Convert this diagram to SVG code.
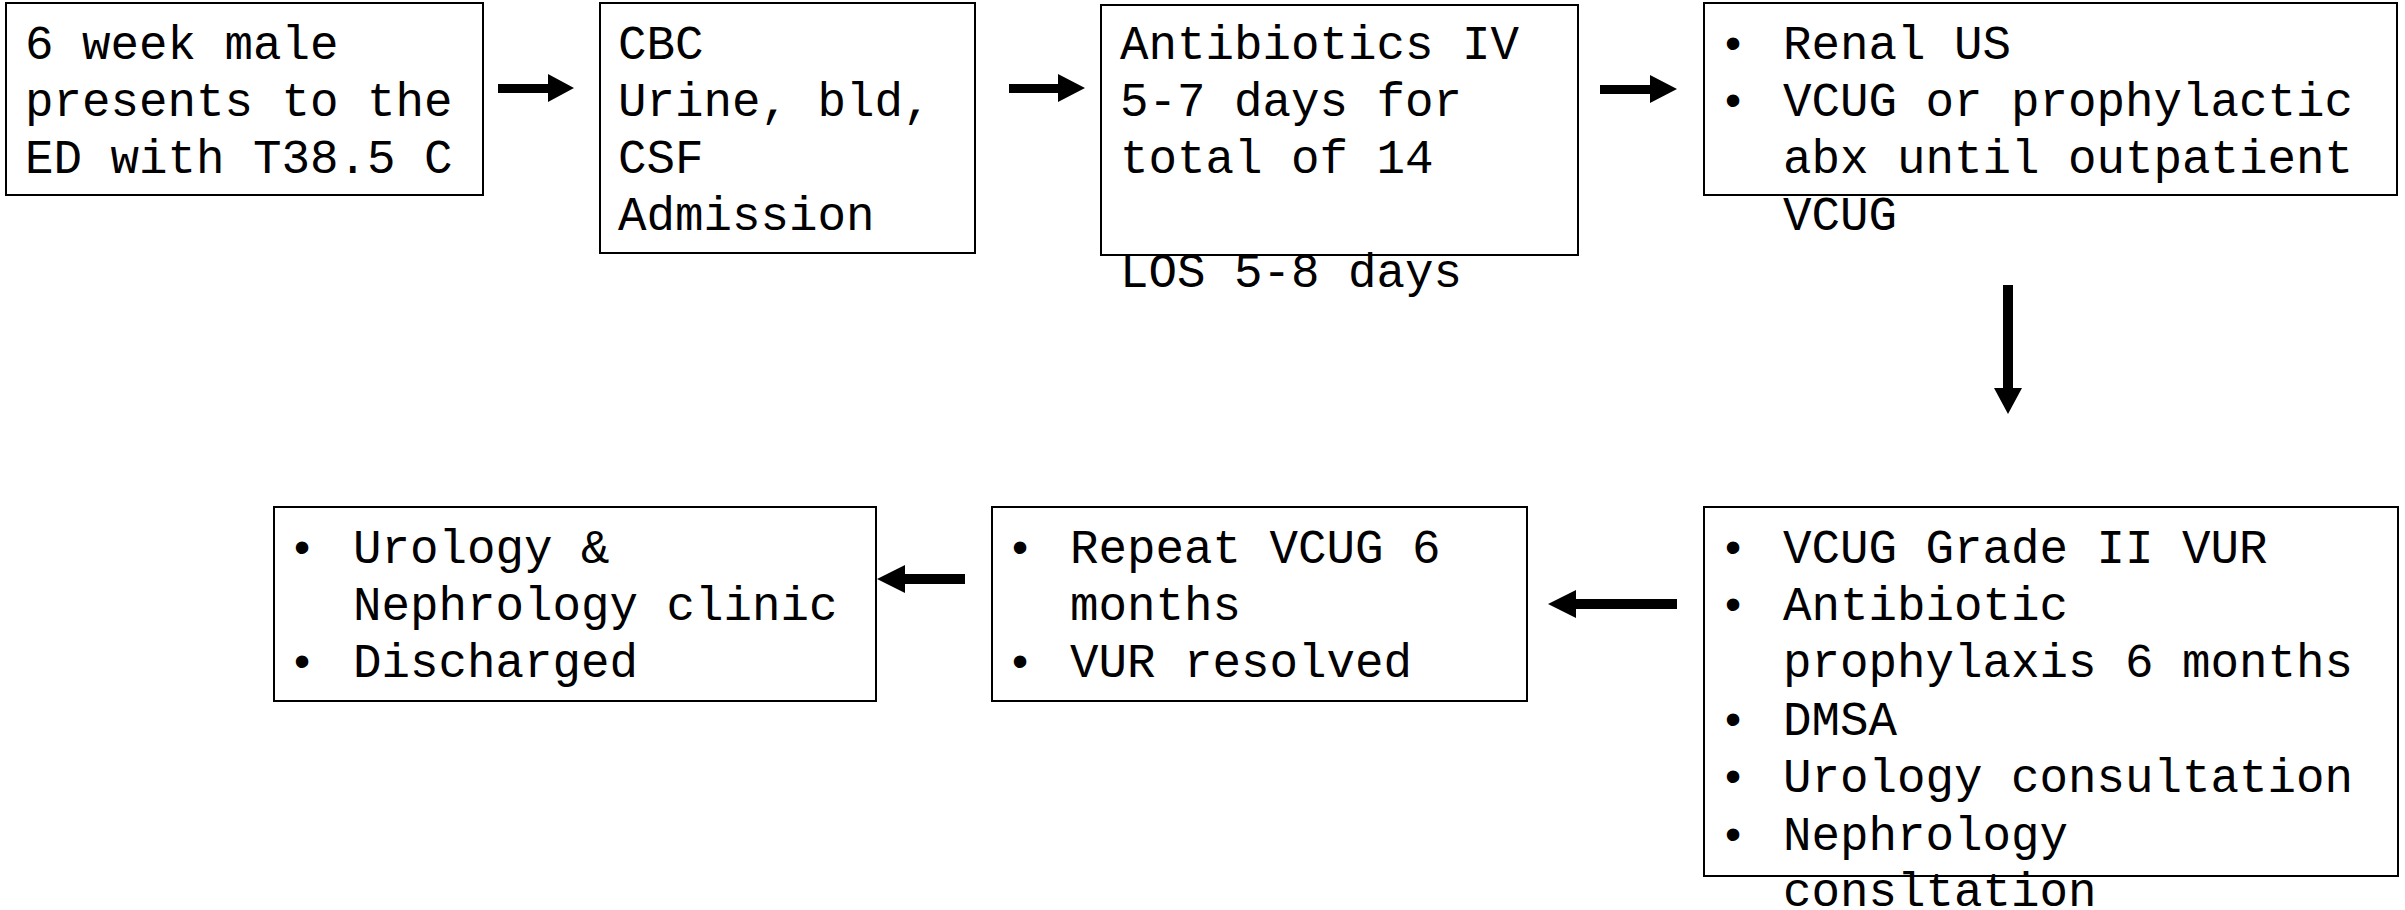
<svg xmlns="http://www.w3.org/2000/svg" width="2405" height="910" viewBox="0 0 2405 910">
<style>
.box{fill:#fff;stroke:#000;stroke-width:2}
.t{font-family:"Liberation Mono","Courier New",monospace;font-size:47.5px;fill:#000}
.b{font-family:"Liberation Sans",Arial,sans-serif;font-size:46px;fill:#000;text-anchor:middle}
.arr{fill:#000;stroke:none}
</style>
<rect width="2405" height="910" fill="#fff"/>
<g id="connectors">
<polygon class="arr" points="498,84 548,84 548,74 574,88 548,102 548,93 498,93"/>
<polygon class="arr" points="1009,84 1058,84 1058,74 1085,88 1058,102 1058,93 1009,93"/>
<polygon class="arr" points="1600,85 1650,85 1650,75 1677,89 1650,103 1650,94 1600,94"/>
<polygon class="arr" points="2003,285 2013,285 2013,388 2022,388 2008,414 1994,388 2003,388"/>
<polygon class="arr" points="965,574 905,574 905,565 877,579 905,593 905,584 965,584"/>
<polygon class="arr" points="1677,599 1576,599 1576,590 1548,604 1576,618 1576,609 1677,609"/>
</g>
<g id="n1">
<rect class="box" x="6" y="3" width="477" height="192"/>
<text class="t" x="25" y="59">6 week male</text>
<text class="t" x="25" y="116">presents to the</text>
<text class="t" x="25" y="173">ED with T38.5 C</text>
</g>
<g id="n2">
<rect class="box" x="600" y="3" width="375" height="250"/>
<text class="t" x="618" y="59">CBC</text>
<text class="t" x="618" y="116">Urine, bld,</text>
<text class="t" x="618" y="173">CSF</text>
<text class="t" x="618" y="230">Admission</text>
</g>
<g id="n3">
<rect class="box" x="1101" y="5" width="477" height="250"/>
<text class="t" x="1120" y="59">Antibiotics IV</text>
<text class="t" x="1120" y="116">5-7 days for</text>
<text class="t" x="1120" y="173">total of 14</text>
<text class="t" x="1120" y="287">LOS 5-8 days</text>
</g>
<g id="n4">
<rect class="box" x="1704" y="3" width="693" height="192"/>
<text class="b" x="1733" y="59">•</text>
<text class="t" x="1783" y="59">Renal US</text>
<text class="b" x="1733" y="116">•</text>
<text class="t" x="1783" y="116">VCUG or prophylactic</text>
<text class="t" x="1783" y="173">abx until outpatient</text>
<text class="t" x="1783" y="230">VCUG</text>
</g>
<g id="n7">
<rect class="box" x="1704" y="507" width="694" height="369"/>
<text class="b" x="1733" y="563">•</text>
<text class="t" x="1783" y="563">VCUG Grade II VUR</text>
<text class="b" x="1733" y="620">•</text>
<text class="t" x="1783" y="620">Antibiotic</text>
<text class="t" x="1783" y="677">prophylaxis 6 months</text>
<text class="b" x="1733" y="735">•</text>
<text class="t" x="1783" y="735">DMSA</text>
<text class="b" x="1733" y="792">•</text>
<text class="t" x="1783" y="792">Urology consultation</text>
<text class="b" x="1733" y="850">•</text>
<text class="t" x="1783" y="850">Nephrology</text>
<text class="t" x="1783" y="906">consltation</text>
</g>
<g id="n6">
<rect class="box" x="992" y="507" width="535" height="194"/>
<text class="b" x="1020" y="563">•</text>
<text class="t" x="1070" y="563">Repeat VCUG 6</text>
<text class="t" x="1070" y="620">months</text>
<text class="b" x="1020" y="677">•</text>
<text class="t" x="1070" y="677">VUR resolved</text>
</g>
<g id="n5">
<rect class="box" x="274" y="507" width="602" height="194"/>
<text class="b" x="302" y="563">•</text>
<text class="t" x="353" y="563">Urology &amp;</text>
<text class="t" x="353" y="620">Nephrology clinic</text>
<text class="b" x="302" y="677">•</text>
<text class="t" x="353" y="677">Discharged</text>
</g>
</svg>
